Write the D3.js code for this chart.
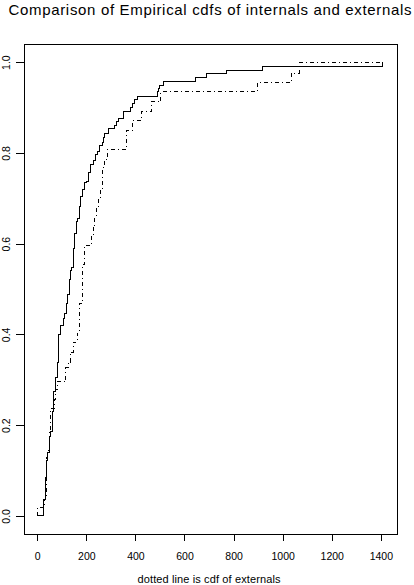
<!DOCTYPE html>
<html>
<head>
<meta charset="utf-8">
<script src="https://cdn.jsdelivr.net/npm/d3@7"></script>
<style>
  body { margin: 0; background: #fff; }
  svg { display: block; font-family: "Liberation Sans", Arial, Helvetica, sans-serif; }
</style>
</head>
<body>
<div id="chart"></div>
<script>
const width = 414;
const height = 585;
const margin = { top: 44, right: 17, bottom: 51, left: 24 };

// internals (solid) - step points
const internalsX = [0, 25, 35, 38, 42, 49, 55, 61, 68, 75, 82, 88, 95, 106, 113, 118, 124, 130, 137, 140,
    147, 152, 158, 163, 171, 178, 185, 194, 201, 208, 218, 231, 239, 245, 253, 267, 272, 276, 289, 314,
    321, 330, 351, 378, 389, 398, 409, 491, 496, 500, 514, 644, 688, 772, 917, 1405];
const internalsF = [0, 0.035, 0.084, 0.123, 0.139, 0.174, 0.187, 0.229, 0.273, 0.304, 0.337, 0.399, 0.419, 0.436, 0.447, 0.469, 0.487, 0.520, 0.540, 0.548,
    0.590, 0.623, 0.648, 0.656, 0.681, 0.703, 0.720, 0.734, 0.738, 0.756, 0.775, 0.784, 0.797, 0.802, 0.817, 0.824, 0.835, 0.843, 0.853, 0.861,
    0.869, 0.876, 0.892, 0.899, 0.909, 0.918, 0.924, 0.935, 0.943, 0.949, 0.958, 0.966, 0.975, 0.982, 0.991, 1.0];

// externals (dot-dash)
const externalsX = [0, 0, 28, 38, 42, 49, 52, 69, 75, 82, 117, 126, 136, 147, 165, 171, 184, 192, 222, 228,
    235, 242, 249, 256, 267, 273, 287, 362, 389, 426, 466, 504, 897, 1037, 1068, 1405];
const externalsF = [0, 0.019, 0.037, 0.128, 0.145, 0.185, 0.236, 0.256, 0.278, 0.297, 0.328, 0.339, 0.361, 0.383, 0.403, 0.467, 0.553, 0.595, 0.615, 0.637,
    0.659, 0.681, 0.700, 0.722, 0.767, 0.786, 0.808, 0.850, 0.872, 0.892, 0.914, 0.936, 0.955, 0.976, 1.0, 1.0];

const xTicks = [0, 200, 400, 600, 800, 1000, 1200, 1400];
const yTicks = [0, 0.2, 0.4, 0.6, 0.8, 1.0];

const title = "Comparison of Empirical cdfs of internals and externals";
const xLabel = "dotted line is cdf of externals";

const internals = internalsX.map((x, i) => ({ x: x, f: internalsF[i] }));
const externals = externalsX.map((x, i) => ({ x: x, f: externalsF[i] }));

// R style axis: 4% padding around the data range
const x = d3.scaleLinear()
    .domain([-54, 1466])
    .range([margin.left, width - margin.right]);

const y = d3.scaleLinear()
    .domain([-0.04, 1.04])
    .range([height - margin.bottom, margin.top]);

const svg = d3.select("#chart").append("svg")
    .attr("width", width)
    .attr("height", height);

svg.append("text")
    .attr("x", 210)
    .attr("y", 15)
    .attr("text-anchor", "middle")
    .attr("textLength", 403)
    .attr("lengthAdjust", "spacing")
    .style("font-size", "15px")
    .text(title);

svg.append("text")
    .attr("x", 209)
    .attr("y", 583)
    .attr("text-anchor", "middle")
    .attr("textLength", 143)
    .attr("lengthAdjust", "spacing")
    .style("font-size", "11px")
    .text(xLabel);

const line = d3.line()
    .curve(d3.curveStepAfter)
    .x(d => x(d.x))
    .y(d => y(d.f));

svg.append("path")
    .datum(internals)
    .attr("fill", "none")
    .attr("stroke", "#000")
    .attr("stroke-width", 1)
    .attr("shape-rendering", "crispEdges")
    .attr("d", line);

svg.append("path")
    .datum(externals)
    .attr("fill", "none")
    .attr("stroke", "#000")
    .attr("stroke-width", 1)
    .attr("stroke-dasharray", "4,3,1,3")
    .attr("shape-rendering", "crispEdges")
    .attr("d", line);

// Axes
const xAxis = svg.append("g")
    .attr("transform", `translate(0,${height - margin.bottom})`)
    .call(d3.axisBottom(x).tickValues(xTicks).tickFormat(d3.format("d"))
        .tickSize(7).tickPadding(11.5).tickSizeOuter(0));

const yAxis = svg.append("g")
    .attr("transform", `translate(${margin.left},0)`)
    .call(d3.axisLeft(y).tickValues(yTicks).tickFormat(d3.format(".1f"))
        .tickSize(8).tickSizeOuter(0));

[xAxis, yAxis].forEach(g => {
    g.select(".domain").remove();
    g.selectAll("line").attr("shape-rendering", "crispEdges");
    g.selectAll("text")
        .style("font-size", "10.5px")
        .attr("font-family", null);
});

yAxis.selectAll("text")
    .attr("transform", "rotate(-90)")
    .attr("text-anchor", "middle")
    .attr("x", 0)
    .attr("y", -14.5)
    .attr("dy", null);

// box round the plot
svg.append("rect")
    .attr("x", margin.left)
    .attr("y", margin.top)
    .attr("width", width - margin.left - margin.right)
    .attr("height", height - margin.top - margin.bottom)
    .attr("fill", "none")
    .attr("stroke", "#000")
    .attr("shape-rendering", "crispEdges");
</script>
</body>
</html>
